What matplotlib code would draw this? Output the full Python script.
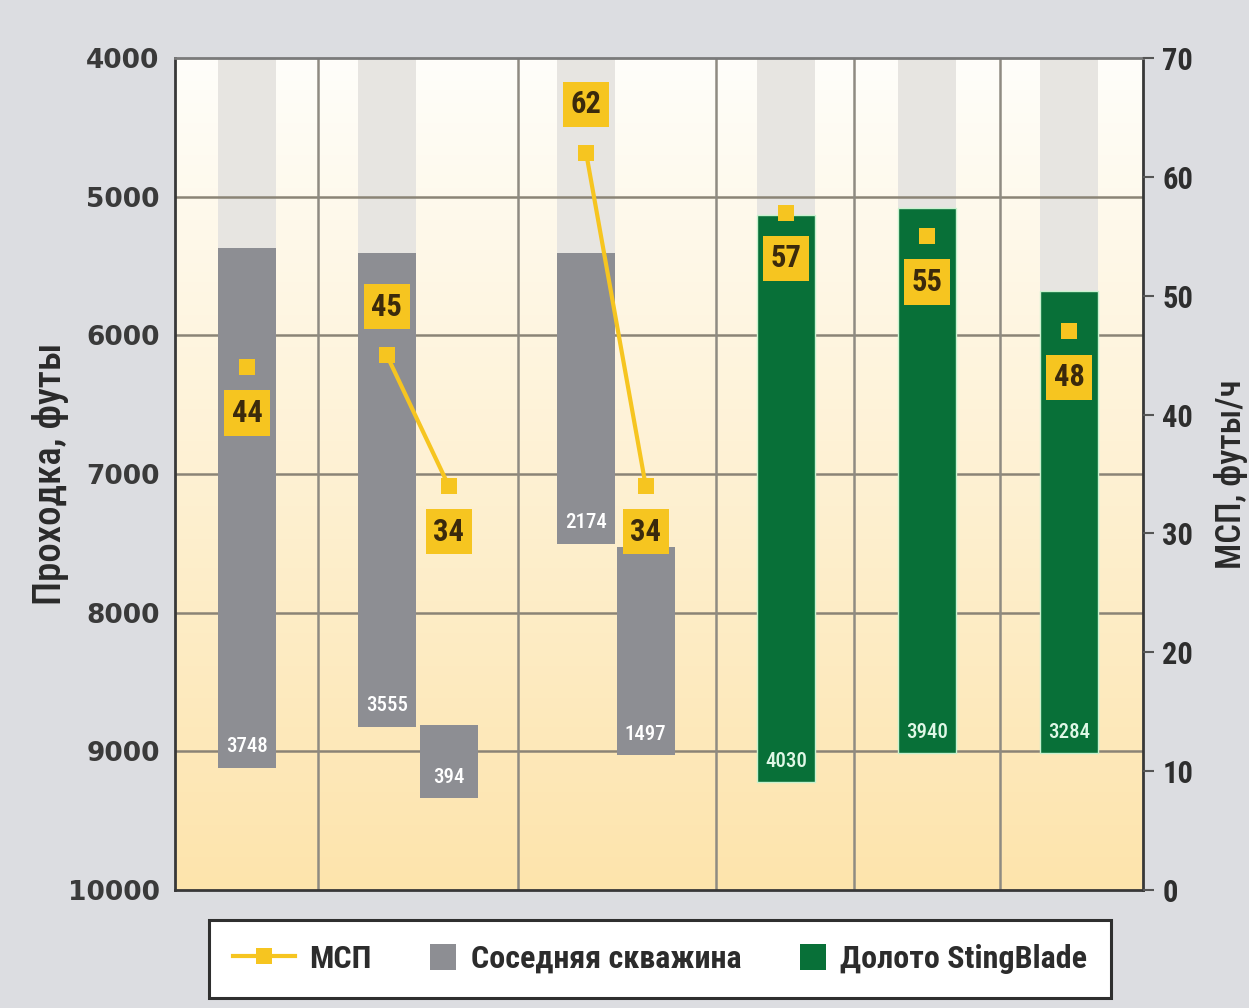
import numpy as np
import matplotlib
matplotlib.use("Agg")
import matplotlib.pyplot as plt
from matplotlib import font_manager
from matplotlib.lines import Line2D
from matplotlib.patches import Rectangle
from matplotlib.legend_handler import HandlerBase

# Data
bar_top = [5370, 5408, 8809, 5408, 7523, 5134, 5083, 5682]       # depth at bar top, ft
bar_bottom = [9118, 8823, 9336, 7502, 9025, 9220, 9011, 9011]    # depth at bar bottom, ft
footage = [3748, 3555, 394, 2174, 1497, 4030, 3940, 3284]        # labels inside bars
bar_kind = ["neighbor"] * 5 + ["stingblade"] * 3
rop = [44, 45, 34, 62, 34, 57, 55, 47]                           # МСП marker values, ft/h
rop_labels = [44, 45, 34, 62, 34, 57, 55, 48]
rop_label_side = ["below", "above", "below", "above", "below", "below", "below", "below"]
rop_groups = [[0], [1, 2], [3, 4], [5], [6], [7]]
strip_bars = [0, 1, 3, 5, 6, 7]                                  # bars with grey strip above them

# Layout (units of one bar width)
bar_x = [1.22, 3.59, 4.64, 6.97, 7.98, 10.36, 12.75, 15.16]
separators = [2.42, 5.81, 9.17, 11.51, 13.98]
x_max = 16.41
bar_w = 0.99

GREY = "#8d8e93"
GREEN = "#087038"
YELLOW = "#f6c520"
BG = "#dcdde1"

names = {f.name for f in font_manager.fontManager.ttflist}
cond = next((n for n in ["Roboto Condensed", "Liberation Sans Narrow",
                         "Open Sans Condensed", "Noto Sans Display"] if n in names),
            "Liberation Sans")


class SquareHandler(HandlerBase):
    # square swatch pushed to the right end of the handle box
    def create_artists(self, legend, orig, xdescent, ydescent, width, height, fontsize, trans):
        s = 19
        r = Rectangle((-xdescent + width - s, -ydescent + (height - s) / 2), s, s,
                      facecolor=orig.get_facecolor(), edgecolor="none", transform=trans)
        return [r]


fig = plt.figure(figsize=(12.49, 10.08), dpi=100, facecolor=BG)
ax = fig.add_axes([175 / 1249, 1 - 890 / 1008, 968 / 1249, 832 / 1008])

# warm gradient background
top_c = np.array([255, 254, 250]) / 255
bot_c = np.array([253, 228, 172]) / 255
t = np.linspace(0, 1, 256)[:, None, None]
grad = top_c * (1 - t) + bot_c * t
ax.imshow(grad, extent=(0, x_max, 10000, 4000), aspect="auto", zorder=0)
ax.set_xlim(0, x_max)
ax.set_ylim(10000, 4000)

# grey strips above the bars
for i in strip_bars:
    ax.bar(bar_x[i], bar_top[i] - 4000, bottom=4000, width=bar_w,
           color="#e7e5e1", zorder=1)

for d in range(5000, 10000, 1000):
    ax.axhline(d, color="#8b8476", lw=1.8, zorder=2)
for s in separators:
    ax.axvline(s, color="#8f8b82", lw=1.8, zorder=2)

for i in range(len(bar_top)):
    green = bar_kind[i] == "stingblade"
    ax.bar(bar_x[i], bar_bottom[i] - bar_top[i], bottom=bar_top[i], width=bar_w,
           color=GREEN if green else GREY,
           edgecolor="#c9f2cf" if green else "none", lw=1 if green else 0, zorder=3)
    ax.text(bar_x[i], bar_bottom[i] - 150, str(footage[i]), ha="center", va="center",
            color="#dff7e6" if green else "white", fontsize=15, fontweight="medium",
            family=cond, zorder=4)

ax.set_xticks([])
ax.set_yticks(range(4000, 10001, 1000))
ax.tick_params(axis="y", length=0, pad=11, labelsize=19, labelcolor="#3a3a3a")
for lab in ax.get_yticklabels():
    lab.set_fontweight("bold")
ax.set_ylabel("Проходка, футы", family=cond, fontsize=28, fontweight="medium",
              color="#2a2a2a")
ax.yaxis.set_label_coords(-0.110, 0.5)

for side in ["left", "bottom", "right"]:
    ax.spines[side].set_color("#383838")
    ax.spines[side].set_linewidth(2)
ax.spines["top"].set_color("#7a7a7a")
ax.spines["top"].set_linewidth(2)

# МСП on the right axis
ax2 = ax.twinx()
ax2.set_ylim(0, 70)
ax2.set_yticks(range(0, 71, 10))
ax2.tick_params(axis="y", direction="out", length=8, width=1.5, color="#555555",
                pad=6, labelsize=22, labelcolor="#2e2e2e")
for lab in ax2.get_yticklabels():
    lab.set_family(cond)
    lab.set_fontweight("bold")
for sp in ax2.spines.values():
    sp.set_visible(False)
ax2.set_ylabel("МСП, футы/ч", family=cond, fontsize=25, fontweight="medium",
               color="#2a2a2a", rotation=90)
ax2.yaxis.set_label_coords(1.073, 0.5)

for grp in rop_groups:
    ax2.plot([bar_x[i] for i in grp], [rop[i] for i in grp], color=YELLOW, lw=3,
             marker="s", markersize=11, markeredgewidth=0, zorder=5)

for i in range(len(rop)):
    dy = -33 if rop_label_side[i] == "below" else 35
    ax2.annotate(str(rop_labels[i]), (bar_x[i], rop[i]), xytext=(0, dy),
                 textcoords="offset points", ha="center", va="center",
                 fontsize=22, fontweight="bold", family=cond, color="#3b2a0c",
                 bbox=dict(boxstyle="square,pad=0.25", fc=YELLOW, ec="none"), zorder=6)

handles = [
    Line2D([], [], color=YELLOW, lw=3, marker="s", markersize=12, markeredgewidth=0),
    Rectangle((0, 0), 1, 1, facecolor=GREY),
    Rectangle((0, 0), 1, 1, facecolor=GREEN),
]
leg = fig.legend(handles, ["МСП", "Соседняя скважина", "Долото StingBlade"],
                 handler_map={Rectangle: SquareHandler()},
                 loc="center", bbox_to_anchor=(660 / 1249, 1 - 959 / 1008), ncol=3,
                 frameon=True, fancybox=False, edgecolor="#2f2f2f", facecolor="white",
                 framealpha=1, handlelength=1.95, handleheight=0.8, handletextpad=0.45,
                 columnspacing=0.7, borderpad=0.75,
                 prop={"family": cond, "size": 23, "weight": "bold"})
leg.get_frame().set_linewidth(2.2)
for txt in leg.get_texts():
    txt.set_color("#2c2c2c")

fig.savefig("out.png", dpi=100, facecolor=BG)
